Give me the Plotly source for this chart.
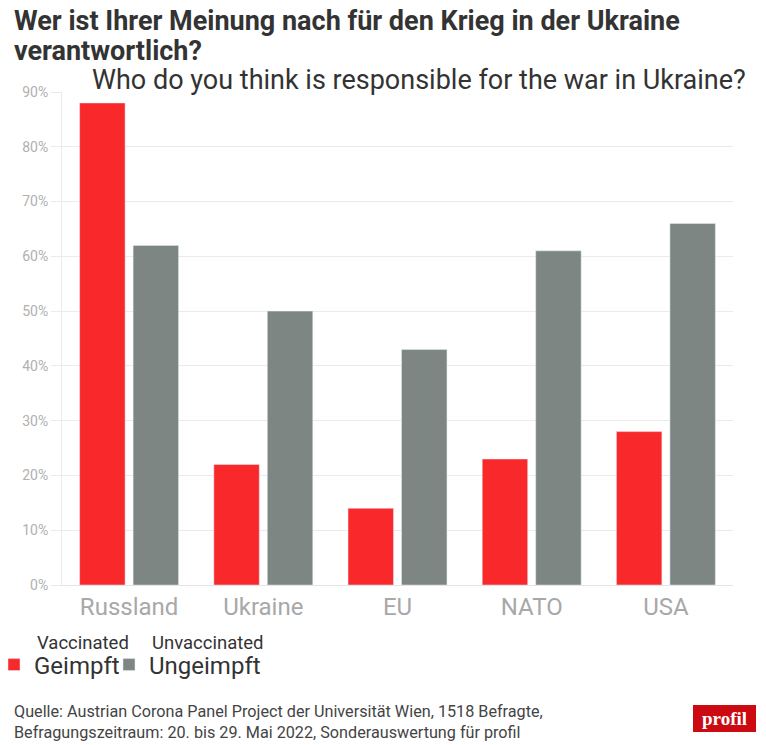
import plotly.graph_objects as go

categories = ["Russland", "Ukraine", "EU", "NATO", "USA"]
geimpft = [88, 22, 14, 23, 28]
ungeimpft = [62, 50, 43, 61, 66]
y_ticks = [0, 10, 20, 30, 40, 50, 60, 70, 80, 90]
y_tick_labels = [f"{v}%" for v in y_ticks]

RED = "#f8282b"
GREY = "#7e8684"

# plot area in pixels (766x745 page)
L, R, T, B = 62, 733, 92, 585
W, H = 766, 745


def px(x):
    return (x - L) / (R - L)


def py(y):
    return (B - y) / (B - T)


fig = go.Figure()
fig.add_trace(go.Bar(x=categories, y=geimpft, name="Geimpft", marker_color=RED,
                     hoverinfo="x+y", legend="legend"))
fig.add_trace(go.Bar(x=categories, y=ungeimpft, name="Ungeimpft", marker_color=GREY,
                     hoverinfo="x+y", legend="legend2"))

leg = dict(orientation="h", y=py(665), yanchor="middle", xanchor="left",
           font=dict(size=24, color="#333"), itemwidth=30, bgcolor="rgba(0,0,0,0)")

fig.update_layout(
    width=W, height=H,
    margin=dict(l=L, r=W - R, t=T, b=H - B, autoexpand=False),
    paper_bgcolor="white", plot_bgcolor="white",
    font=dict(family="Roboto", color="#333"),
    barmode="group", bargap=0.203, bargroupgap=0.15,
    legend=dict(leg, x=px(-6)),
    legend2=dict(leg, x=px(109)),
    showlegend=True,
)

fig.update_yaxes(
    range=[0, 90], tickvals=y_ticks, ticktext=y_tick_labels,
    showgrid=True, gridcolor="#ebebeb", gridwidth=1,
    tickfont=dict(size=14, color="#b0b0b0"), zeroline=False,
    showline=True, linecolor="#ebebeb", ticks="outside", ticklen=10, tickcolor="#ebebeb",
    fixedrange=True, automargin=False,
)
fig.update_xaxes(
    tickfont=dict(size=24, color="#a8a8a8"),
    showline=True, linecolor="#e4e4e4", ticks="", fixedrange=True, automargin=False,
)

annotations = [
    dict(text="<b>Wer ist Ihrer Meinung nach für den Krieg in der Ukraine</b>",
         x=px(12), y=py(21), xanchor="left", yanchor="middle",
         font=dict(size=27, color="#333")),
    dict(text="<b>verantwortlich?</b>",
         x=px(12), y=py(51), xanchor="left", yanchor="middle",
         font=dict(size=27, color="#333")),
    dict(text="Who do you think is responsible for the war in Ukraine?",
         x=px(748), y=py(80), xanchor="right", yanchor="middle",
         font=dict(size=27, color="#333")),
    dict(text="Vaccinated", x=px(35), y=py(643), xanchor="left", yanchor="middle",
         font=dict(size=18.5, color="#333")),
    dict(text="Unvaccinated", x=px(150), y=py(643), xanchor="left", yanchor="middle",
         font=dict(size=18.5, color="#333")),
    dict(text="Quelle: Austrian Corona Panel Project der Universität Wien, 1518 Befragte,<br>"
              "Befragungszeitraum: 20. bis 29. Mai 2022, Sonderauswertung für profil",
         x=px(12), y=py(700), xanchor="left", yanchor="top", align="left",
         font=dict(size=16.2, color="#444")),
    dict(text="<b>profil</b>", x=px(724.5), y=py(718.5), xanchor="center", yanchor="middle",
         font=dict(size=19, color="white", family="Liberation Serif")),
]
for a in annotations:
    a.update(xref="paper", yref="paper", showarrow=False)
fig.update_layout(annotations=annotations)

fig.add_shape(type="rect", xref="paper", yref="paper",
              x0=px(693), x1=px(756), y0=py(705), y1=py(732),
              fillcolor="#cc0a12", line_width=0, layer="below")

fig.write_html("out.html", config={"displayModeBar": False},
               post_script="document.body.style.margin='0';")
